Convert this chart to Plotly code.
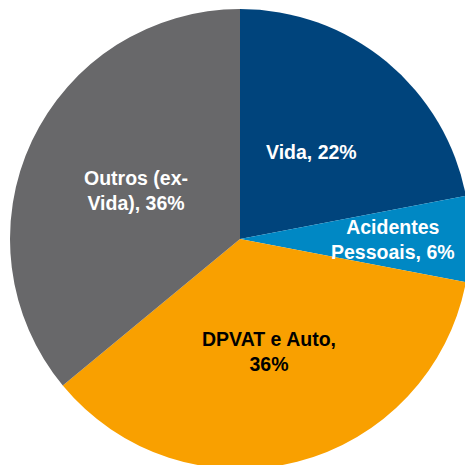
import math
import plotly.graph_objects as go

# Share of premiums by line of business (%)
categories = ["Vida", "Acidentes Pessoais", "DPVAT e Auto", "Outros (ex-Vida)"]
shares = [22, 6, 36, 36]
label_texts = ["Vida, 22%", "Acidentes<br>Pessoais, 6%", "DPVAT e Auto,<br>36%", "Outros (ex-<br>Vida), 36%"]

colors = ["#00447C", "#0088C4", "#F9A000", "#68686A"]
label_colors = ["white", "white", "black", "white"]
# radial placement of each label, as a fraction of the radius
label_radius = [0.49, 0.665, 0.505, 0.50]

W = H = 480
cx, cy_top, R = 240, 239, 230  # pie centre (from top-left) and radius in px

fig = go.Figure(go.Pie(
    labels=categories,
    values=shares,
    sort=False,
    direction="clockwise",
    rotation=0,
    marker=dict(colors=colors, line=dict(width=0)),
    textinfo="none",
    hoverinfo="label+percent",
    showlegend=False,
    domain=dict(x=[(cx - R) / W, (cx + R) / W],
                y=[(H - cy_top - R) / H, (H - cy_top + R) / H]),
))

# slice labels placed along each slice's mid-angle
total = sum(shares)
cum = 0
for txt, v, col, rf in zip(label_texts, shares, label_colors, label_radius):
    mid = (cum + v / 2) / total * 2 * math.pi
    cum += v
    px = cx + rf * R * math.sin(mid)
    py = cy_top - rf * R * math.cos(mid)
    fig.add_annotation(
        x=px / W, y=(H - py) / H, xref="paper", yref="paper",
        text=txt, showarrow=False, align="center",
        xanchor="center", yanchor="middle",
        font=dict(family="Liberation Sans, Arial, sans-serif", size=19.5, color=col, weight="bold"),
    )

fig.update_layout(
    width=W, height=H,
    margin=dict(l=0, r=0, t=0, b=0),
    paper_bgcolor="white",
    plot_bgcolor="white",
)

fig.write_html(
    "out.html",
    post_script="document.body.style.margin='0';document.body.style.overflow='hidden';",
)
